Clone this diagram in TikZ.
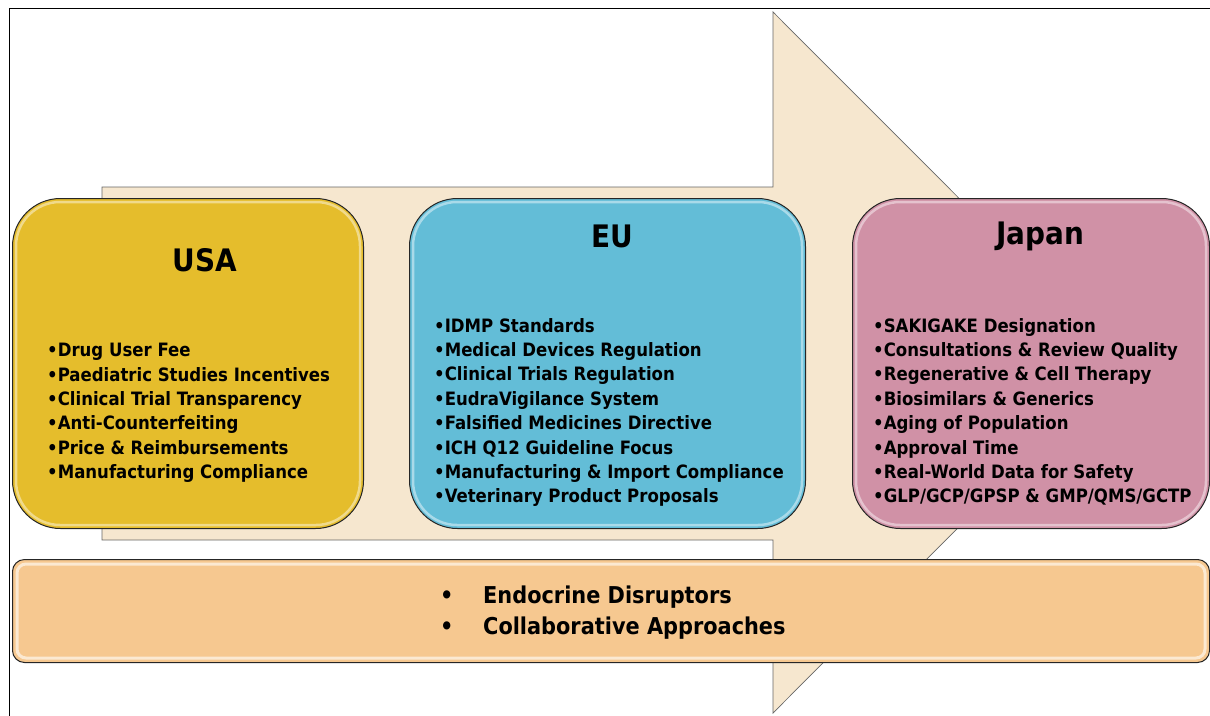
\documentclass[tikz,border=0pt]{standalone}
\usepackage{fontspec}
\setmainfont{DejaVu Sans Condensed}
\usetikzlibrary{positioning,calc}

\definecolor{usagold}{HTML}{E5BD2C}
\definecolor{eublue}{HTML}{63BDD7}
\definecolor{jpmauve}{HTML}{D091A6}
\definecolor{barpeach}{HTML}{F6C890}
\definecolor{arrowcream}{HTML}{F6E7CF}

\begin{document}
\begin{tikzpicture}[
		x=1pt, y=-1pt,
		region/.style={draw=black!85, line width=1pt, rounded corners=48pt, minimum height=330pt, inner sep=0pt},
		gloss/.style={draw=white, opacity=0.45, line width=2.5pt, rounded corners=44pt},
		heading/.style={font=\fontsize{31}{36}\selectfont\bfseries},
		items/.style={align=left, anchor=north west, inner sep=0pt, font=\fontsize{18.4}{24.4}\selectfont\bfseries},
	]
		\useasboundingbox (0,0) rectangle (1210,715);
		\clip (0,0) rectangle (1210,715);

		% frame round the slide
		\draw[line width=0.8pt] (9.5,730) -- (9.5,8.5) -- (1230,8.5);

		% big arrow behind the boxes
		\draw[fill=arrowcream, draw=black!60, line width=0.7pt]
			(102,187) -- (773,187) -- (773,12) -- (1123,362.5) -- (773,713)
			-- (773,540) -- (102,540) -- cycle;

		% the three regions
		\node [region, fill=usagold, minimum width=351pt, anchor=north west] (usa) at (12,198) {};
		\node [region, fill=eublue, minimum width=396pt, anchor=north west] (eu) at (409,198) {};
		\node [region, fill=jpmauve, minimum width=357pt, anchor=north west] (japan) at (852,198) {};
		\foreach \r in {usa,eu,japan}
			\draw[gloss] ($(\r.north west)+(4,4)$) rectangle ($(\r.south east)+(-4,-4)$);

		\node [heading] (usa title) at (205,260) {USA};
		\node [heading] (eu title) at (612,236) {EU};
		\node [heading] (japan title) at (1040,236) {Japan};

		\node [items] (usa list) at (47,343) {%
			•Drug User Fee\\
			•Paediatric Studies Incentives\\
			•Clinical Trial Transparency\\
			•Anti-Counterfeiting\\
			•Price \& Reimbursements\\
			•Manufacturing Compliance};
		\node [items] (eu list) at (434,318) {%
			•IDMP Standards\\
			•Medical Devices Regulation\\
			•Clinical Trials Regulation\\
			•EudraVigilance System\\
			•Falsified Medicines Directive\\
			•ICH Q12 Guideline Focus\\
			•Manufacturing \& Import Compliance\\
			•Veterinary Product Proposals};
		\node [items] (japan list) at (873,318) {%
			•SAKIGAKE Designation\\
			•Consultations \& Review Quality\\
			•Regenerative \& Cell Therapy\\
			•Biosimilars \& Generics\\
			•Aging of Population\\
			•Approval Time\\
			•Real-World Data for Safety\\
			•GLP/GCP/GPSP \& GMP/QMS/GCTP};

		% shared topics along the bottom
		\node [draw=black!85, line width=1pt, fill=barpeach, rounded corners=12pt,
			minimum width=1197pt, minimum height=103pt, anchor=north west] (common) at (12,559) {};
		\draw[draw=white, opacity=0.6, line width=3pt, rounded corners=9pt]
			($(common.north west)+(5,5)$) rectangle ($(common.south east)+(-5,-5)$);
		\node [align=left, anchor=west, inner sep=0pt, font=\fontsize{23.2}{31}\selectfont\bfseries] (common list) at (440,613) {%
			\makebox[43pt][l]{•}Endocrine Disruptors\\
			\makebox[43pt][l]{•}Collaborative Approaches};
\end{tikzpicture}
\end{document}
